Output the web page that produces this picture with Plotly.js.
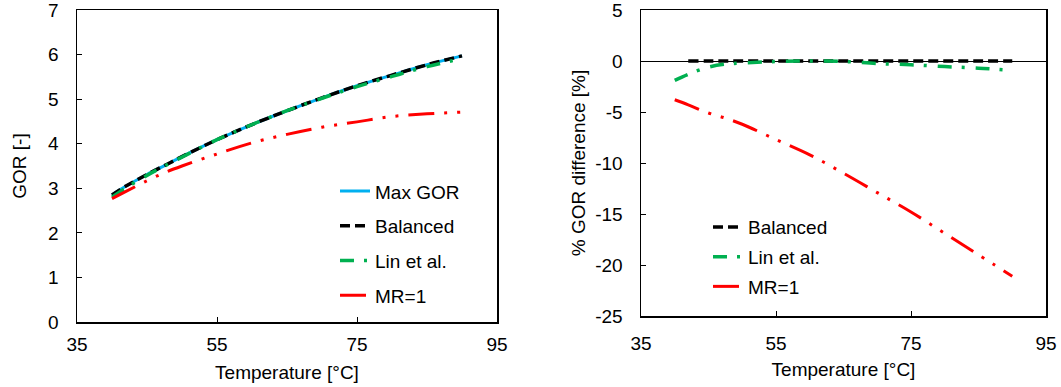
<!DOCTYPE html>
<html>
<head>
<meta charset="utf-8">
<script src="https://cdn.plot.ly/plotly-3.0.1.min.js"></script>
<style>html,body{margin:0;padding:0;background:#fff;}#chart{width:1061px;height:387px;}</style>
</head>
<body>
<div id="chart"></div>
<script>
// Temperature [°C]
const temperature = [40, 42, 45, 47.5, 50, 55, 60, 65, 70, 75, 80, 85, 90];

// Left panel: GOR [-]
const gorMax      = [2.85, 3.05, 3.31, 3.51, 3.71, 4.09, 4.43, 4.74, 5.03, 5.30, 5.54, 5.77, 5.97];
const gorBalanced = [2.85, 3.05, 3.31, 3.51, 3.71, 4.09, 4.43, 4.74, 5.03, 5.30, 5.54, 5.77, 5.97];
const gorLin      = [2.80, 3.01, 3.29, 3.50, 3.70, 4.09, 4.43, 4.74, 5.02, 5.28, 5.51, 5.73, 5.91];
const gorMR1      = [2.77, 2.93, 3.17, 3.35, 3.50, 3.77, 4.02, 4.21, 4.37, 4.49, 4.61, 4.67, 4.71];

// Right panel: % GOR difference [%]
const diffBalanced = [null, 0, 0, 0, 0, 0, 0, 0, 0, 0, 0, 0, 0];
const diffLin      = [-1.9, -1.3, -0.6, -0.3, -0.2, -0.05, 0, -0.05, -0.25, -0.37, -0.55, -0.7, -0.93];
const diffMR1      = [-3.8, -4.3, -5.1, -5.6, -6.2, -7.7, -9.2, -11.0, -12.9, -14.8, -16.9, -19.0, -21.1];

// Tick labels
const xTickVals = [35, 55, 75, 95];
const xTickText = ['35', '55', '75', '95'];
const gorTickVals = [0, 1, 2, 3, 4, 5, 6, 7];
const gorTickText = ['0', '1', '2', '3', '4', '5', '6', '7'];
const diffTickVals = [-25, -20, -15, -10, -5, 0, 5];
const diffTickText = ['-25', '-20', '-15', '-10', '-5', '0', '5'];

const FONT = 'Arial, "Liberation Sans", sans-serif';
const FS = 19;
const W = 1061;

const cBlue = '#00B0F0', cBlack = '#000000', cGreen = '#00B050', cRed = '#FF0000';
const dashBlack = '10px,5px';
const dashGreen = '14px,10px,3px,11px';
const dashRed = '26px,10px,3px,10px,3px,10px';

const traces = [
  {x: temperature, y: gorMax, name: 'Max GOR', mode: 'lines', line: {color: cBlue, width: 3, shape: 'spline'}, xaxis: 'x', yaxis: 'y', legend: 'legend', legendgroup: 'a'},
  {x: temperature, y: gorBalanced, name: 'Balanced', mode: 'lines', line: {color: cBlack, width: 3.5, dash: dashBlack, shape: 'spline'}, xaxis: 'x', yaxis: 'y', legend: 'legend', legendgroup: 'b'},
  {x: temperature, y: gorLin, name: 'Lin et al.', mode: 'lines', line: {color: cGreen, width: 3.5, dash: dashGreen, shape: 'spline'}, xaxis: 'x', yaxis: 'y', legend: 'legend', legendgroup: 'c'},
  {x: temperature, y: gorMR1, name: 'MR=1', mode: 'lines', line: {color: cRed, width: 3, dash: dashRed, shape: 'spline'}, xaxis: 'x', yaxis: 'y', legend: 'legend', legendgroup: 'd'},
  {x: temperature, y: diffBalanced, name: 'Balanced', mode: 'lines', line: {color: cBlack, width: 3.5, dash: dashBlack, shape: 'spline'}, xaxis: 'x2', yaxis: 'y2', legend: 'legend2', legendgroup: 'e'},
  {x: temperature, y: diffLin, name: 'Lin et al.', mode: 'lines', line: {color: cGreen, width: 3.5, dash: dashGreen, shape: 'spline'}, xaxis: 'x2', yaxis: 'y2', legend: 'legend2', legendgroup: 'f'},
  {x: temperature, y: diffMR1, name: 'MR=1', mode: 'lines', line: {color: cRed, width: 3, dash: dashRed, shape: 'spline'}, xaxis: 'x2', yaxis: 'y2', legend: 'legend2', legendgroup: 'g'}
];

const axisCommon = {
  showline: true, mirror: true, linecolor: '#000', linewidth: 1.5,
  ticks: 'inside', ticklen: 5, tickwidth: 1, tickcolor: '#000',
  showgrid: false, zeroline: false, ticklabeloverflow: 'allow',
  tickmode: 'array',
  tickfont: {family: FONT, size: FS, color: '#000'}
};

const layout = {
  width: 1061, height: 387,
  margin: {l: 0, r: 0, t: 10, b: 65, pad: 0},
  paper_bgcolor: '#fff', plot_bgcolor: '#fff',
  font: {family: FONT, size: FS, color: '#000'},
  showlegend: true,
  xaxis: Object.assign({}, axisCommon, {
    domain: [77 / W, 497 / W], range: [35, 95], tickvals: xTickVals, ticktext: xTickText, ticklabelstandoff: 5,
    anchor: 'y', title: {text: 'Temperature [°C]', font: {family: FONT, size: FS}, standoff: 11}
  }),
  yaxis: Object.assign({}, axisCommon, {
    domain: [0, 1], range: [0, 7], tickvals: gorTickVals, ticktext: gorTickText, ticklabelstandoff: 13,
    anchor: 'x', title: {text: 'GOR [-]', font: {family: FONT, size: FS}, standoff: 16}
  }),
  xaxis2: Object.assign({}, axisCommon, {
    domain: [641 / W, 1046 / W], range: [35, 95], tickvals: xTickVals, ticktext: xTickText, ticklabelstandoff: 10,
    anchor: 'y2', title: {text: 'Temperature [°C]', font: {family: FONT, size: FS}, standoff: 9}
  }),
  yaxis2: Object.assign({}, axisCommon, {
    domain: [6 / 312, 1], range: [-25, 5], tickvals: diffTickVals, ticktext: diffTickText, ticklabelstandoff: 13,
    zeroline: true, zerolinecolor: '#000', zerolinewidth: 1,
    anchor: 'x2', title: {text: '% GOR difference [%]', font: {family: FONT, size: FS}, standoff: 4}
  }),
  legend: {
    x: 335 / W, y: 0.48, xanchor: 'left', yanchor: 'top',
    bgcolor: 'rgba(0,0,0,0)', font: {family: FONT, size: FS},
    tracegroupgap: 7, itemwidth: 30
  },
  legend2: {
    x: 708 / W, y: 0.365, xanchor: 'left', yanchor: 'top',
    bgcolor: 'rgba(0,0,0,0)', font: {family: FONT, size: FS},
    tracegroupgap: 2, itemwidth: 30
  }
};

Plotly.newPlot('chart', traces, layout, {staticPlot: true, displayModeBar: false});
</script>
</body>
</html>
